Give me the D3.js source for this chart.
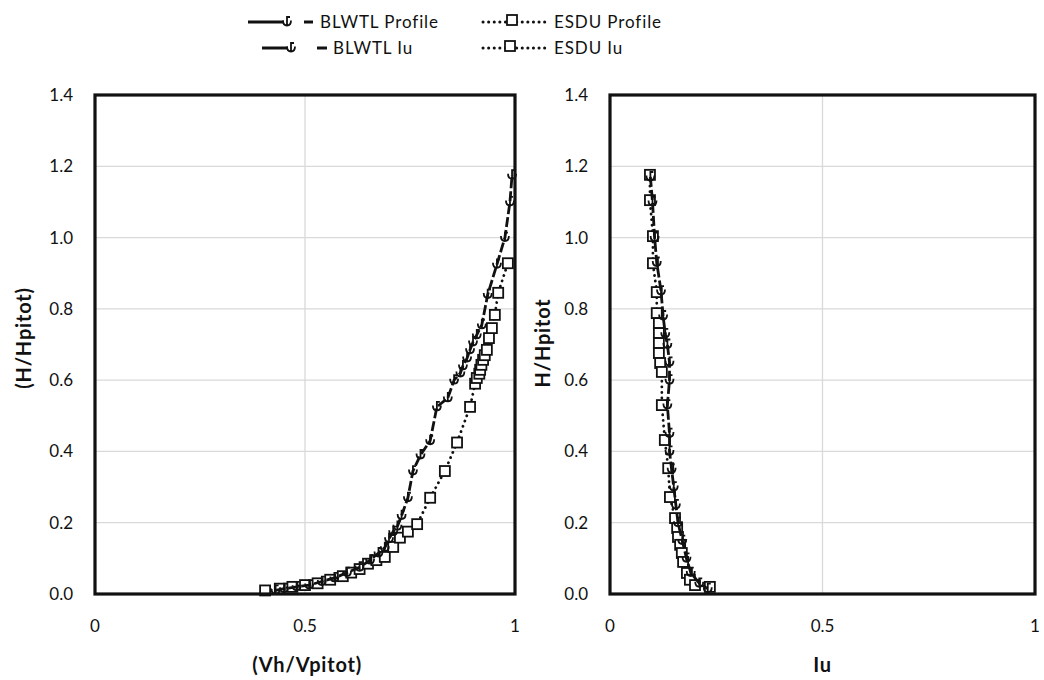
<!DOCTYPE html>
<html lang="en">
<head>
  <meta charset="UTF-8" />
  <title>BLWTL vs ESDU profiles</title>
  <style>
    body {
      margin: 0;
      background: white;
      font-family: "Lato", "Open Sans", sans-serif;
    }
    .tick-label {
      font-size: 17px;
      fill: #111;
    }
    .axis-title {
      font-size: 20px;
      font-weight: bold;
      fill: #111;
      letter-spacing: 0.8px;
    }
    .legend-label {
      font-size: 17px;
      fill: #111;
      letter-spacing: 0.9px;
    }
  </style>
</head>
<body>
  <svg width="1044" height="680"></svg>

  <script src="https://d3js.org/d3.v7.min.js"></script>
  <script>
    // ---- data ----
    const blwtlProfileX = [0.43, 0.45, 0.48, 0.51, 0.54, 0.57, 0.60, 0.63, 0.655, 0.675, 0.69, 0.70, 0.71, 0.72, 0.73, 0.745, 0.757, 0.775, 0.798, 0.814, 0.84, 0.855, 0.87, 0.876, 0.886, 0.893, 0.90, 0.909, 0.921, 0.935, 0.957, 0.976, 0.988, 0.993];
    const blwtlProfileY = [0.01, 0.015, 0.02, 0.025, 0.035, 0.045, 0.06, 0.075, 0.095, 0.115, 0.13, 0.155, 0.175, 0.19, 0.22, 0.27, 0.345, 0.39, 0.43, 0.525, 0.55, 0.60, 0.62, 0.64, 0.662, 0.685, 0.707, 0.727, 0.755, 0.84, 0.925, 1.0, 1.1, 1.175];

    const esduProfileX = [0.405, 0.44, 0.47, 0.50, 0.53, 0.56, 0.59, 0.61, 0.63, 0.65, 0.67, 0.69, 0.71, 0.726, 0.745, 0.767, 0.798, 0.833, 0.862, 0.893, 0.905, 0.909, 0.915, 0.917, 0.92, 0.924, 0.928, 0.933, 0.938, 0.945, 0.952, 0.96, 0.983];
    const esduProfileY = [0.01, 0.015, 0.02, 0.025, 0.03, 0.04, 0.05, 0.06, 0.07, 0.085, 0.095, 0.104, 0.132, 0.158, 0.175, 0.196, 0.27, 0.345, 0.425, 0.525, 0.59, 0.606, 0.618, 0.629, 0.643, 0.657, 0.67, 0.685, 0.718, 0.746, 0.783, 0.845, 0.928];

    const blwtlIuX = [0.095, 0.10, 0.105, 0.11, 0.12, 0.125, 0.13, 0.135, 0.14, 0.14, 0.135, 0.14, 0.14, 0.145, 0.15, 0.155, 0.16, 0.17, 0.18, 0.19, 0.21, 0.23];
    const blwtlIuY = [1.17, 1.1, 1.0, 0.93, 0.85, 0.78, 0.73, 0.70, 0.65, 0.60, 0.53, 0.45, 0.40, 0.35, 0.30, 0.25, 0.20, 0.15, 0.10, 0.06, 0.03, 0.015];

    const esduIuX = [0.094, 0.094, 0.101, 0.101, 0.11, 0.11, 0.115, 0.115, 0.115, 0.115, 0.118, 0.122, 0.122, 0.129, 0.137, 0.141, 0.153, 0.158, 0.16, 0.165, 0.169, 0.172, 0.181, 0.188, 0.20, 0.235];
    const esduIuY = [1.176, 1.105, 1.004, 0.928, 0.847, 0.788, 0.76, 0.732, 0.704, 0.676, 0.648, 0.623, 0.53, 0.432, 0.353, 0.272, 0.213, 0.185, 0.16, 0.138, 0.115, 0.09, 0.059, 0.04, 0.025, 0.02];

    const yTicks = [0, 0.2, 0.4, 0.6, 0.8, 1.0, 1.2, 1.4];
    const xTicks = [0, 0.5, 1];

    const svg = d3.select("svg");

    const plotTop = 95, plotBottom = 594;
    const y = d3.scaleLinear().domain([0, 1.4]).range([plotBottom, plotTop]);

    const panels = [
      {
        x0: 95, x1: 515, xTitle: "(Vh/Vpitot)", xTitleAt: 0.505, yTitle: "(H/Hpitot)", yTitleX: 24, yTitleY: 338,
        blwtl: d3.zip(blwtlProfileX, blwtlProfileY),
        esdu: d3.zip(esduProfileX, esduProfileY)
      },
      {
        x0: 610, x1: 1035, xTitle: "Iu", xTitleAt: 0.5, yTitle: "H/Hpitot", yTitleX: 543, yTitleY: 343,
        blwtl: d3.zip(blwtlIuX, blwtlIuY),
        esdu: d3.zip(esduIuX, esduIuY)
      }
    ];

    // BLWTL marker: small cup with stem
    const blwtlMarker = "M-4,-1.5 Q-4,3.5 0,3.5 Q4,3.5 4,-1.5 M0,3.5 L0,-5 L3,-5";

    function drawBlwtlMarker(g, px, py) {
      g.append("path")
        .attr("d", blwtlMarker)
        .attr("transform", `translate(${px},${py})`)
        .attr("fill", "none")
        .attr("stroke", "#111")
        .attr("stroke-width", 1.8);
    }

    function drawSquare(g, px, py) {
      g.append("rect")
        .attr("x", px - 5)
        .attr("y", py - 5)
        .attr("width", 10)
        .attr("height", 10)
        .attr("fill", "white")
        .attr("stroke", "#111")
        .attr("stroke-width", 1.8);
    }

    panels.forEach(p => {
      const x = d3.scaleLinear().domain([0, 1]).range([p.x0, p.x1]);
      const g = svg.append("g");

      // gridlines
      g.selectAll(".hgrid")
        .data(yTicks.filter(d => d > 0 && d < 1.4))
        .join("line")
          .attr("x1", p.x0).attr("x2", p.x1)
          .attr("y1", d => y(d)).attr("y2", d => y(d))
          .attr("stroke", "#d9d9d9")
          .attr("stroke-width", 1.3);

      g.append("line")
        .attr("x1", x(0.5)).attr("x2", x(0.5))
        .attr("y1", plotTop).attr("y2", plotBottom)
        .attr("stroke", "#d9d9d9")
        .attr("stroke-width", 1.3);

      // tick labels
      g.selectAll(".ylab")
        .data(yTicks)
        .join("text")
          .attr("class", "tick-label")
          .attr("x", p.x0 - 22)
          .attr("y", d => y(d) + 6)
          .attr("text-anchor", "end")
          .text(d => d.toFixed(1));

      g.selectAll(".xlab")
        .data(xTicks)
        .join("text")
          .attr("class", "tick-label")
          .attr("x", d => x(d))
          .attr("y", 632)
          .attr("text-anchor", "middle")
          .text(d => d);

      // titles
      g.append("text")
        .attr("class", "axis-title")
        .attr("x", x(p.xTitleAt))
        .attr("y", 672)
        .attr("text-anchor", "middle")
        .text(p.xTitle);

      g.append("text")
        .attr("class", "axis-title")
        .attr("transform", `translate(${p.yTitleX},${p.yTitleY}) rotate(-90)`)
        .attr("text-anchor", "middle")
        .attr("dy", "0.35em")
        .text(p.yTitle);

      // series lines
      const line = d3.line().x(d => x(d[0])).y(d => y(d[1]));

      g.append("path")
        .datum(p.esdu)
        .attr("d", line)
        .attr("fill", "none")
        .attr("stroke", "#111")
        .attr("stroke-width", 2.8)
        .attr("stroke-linecap", "round")
        .attr("stroke-dasharray", "0.1,5.5");

      p.esdu.forEach(d => drawSquare(g, x(d[0]), y(d[1])));

      g.append("path")
        .datum(p.blwtl)
        .attr("d", line)
        .attr("fill", "none")
        .attr("stroke", "#111")
        .attr("stroke-width", 2.8)
        .attr("stroke-dasharray", "10,3");

      p.blwtl.forEach(d => drawBlwtlMarker(g, x(d[0]), y(d[1])));

      // plot border
      g.append("rect")
        .attr("x", p.x0).attr("y", plotTop)
        .attr("width", p.x1 - p.x0).attr("height", plotBottom - plotTop)
        .attr("fill", "none")
        .attr("stroke", "#111")
        .attr("stroke-width", 3.2);
    });

    // legend
    const legend = svg.append("g");
    const legendItems = [
      { label: "BLWTL Profile", type: "blwtl", lx0: 248, lx1: 284, mx: 287, dx0: 304, dx1: 313, tx: 320, ty: 22 },
      { label: "ESDU Profile", type: "esdu", lx0: 483, lx1: 548, mx: 512, tx: 554, ty: 22 },
      { label: "BLWTL Iu", type: "blwtl", lx0: 262, lx1: 288, mx: 291, dx0: 317, dx1: 327, tx: 333, ty: 48 },
      { label: "ESDU Iu", type: "esdu", lx0: 483, lx1: 548, mx: 510, tx: 554, ty: 48 }
    ];

    legendItems.forEach(d => {
      if (d.type === "blwtl") {
        legend.append("line")
          .attr("x1", d.lx0).attr("x2", d.lx1)
          .attr("y1", d.ty).attr("y2", d.ty)
          .attr("stroke", "#111").attr("stroke-width", 3);
        legend.append("line")
          .attr("x1", d.dx0).attr("x2", d.dx1)
          .attr("y1", d.ty).attr("y2", d.ty)
          .attr("stroke", "#111").attr("stroke-width", 3);
        drawBlwtlMarker(legend, d.mx, d.ty);
      } else {
        legend.append("line")
          .attr("x1", d.lx0).attr("x2", d.lx1)
          .attr("y1", d.ty).attr("y2", d.ty)
          .attr("stroke", "#111").attr("stroke-width", 3)
          .attr("stroke-linecap", "round")
          .attr("stroke-dasharray", "0.1,5.5");
        drawSquare(legend, d.mx, d.ty - 2);
      }
      legend.append("text")
        .attr("class", "legend-label")
        .attr("x", d.tx)
        .attr("y", d.ty + 6)
        .text(d.label);
    });
  </script>
</body>
</html>
